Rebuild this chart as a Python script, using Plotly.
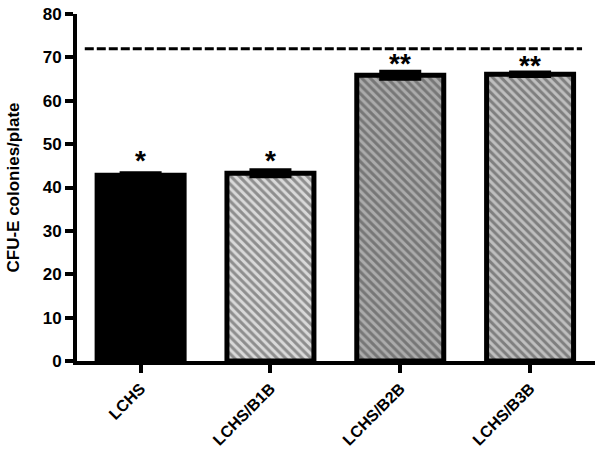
import plotly.graph_objects as go

categories = ["LCHS", "LCHS/B1B", "LCHS/B2B", "LCHS/B3B"]
values = [42.8, 43.3, 65.9, 66.1]
errors = [0.5, 0.7, 0.8, 0.4]
significance = ["*", "*", "**", "**"]
significance_y = [47.7, 47.7, 70.0, 69.6]
reference_level = 72
y_ticks = [0, 10, 20, 30, 40, 50, 60, 70, 80]

fill_colors = ["#000000", "#d9d9d9", "#ababab", "#7f7f7f"]
pattern_shapes = ["", "\\", "\\", "\\"]

font_family = "Arial, Liberation Sans, sans-serif"

fig = go.Figure()
fig.add_trace(go.Bar(
    x=categories, y=values, width=0.67,
    marker=dict(
        color=fill_colors,
        line=dict(color="black", width=5),
        pattern=dict(shape=pattern_shapes, fgcolor="black", bgcolor=fill_colors,
                     size=6, solidity=0.5, fillmode="overlay"),
    ),
    error_y=dict(type="data", array=errors, visible=True, color="black",
                 thickness=4, width=21),
    showlegend=False,
    hoverinfo="skip",
))

for c, sy, s in zip(categories, significance_y, significance):
    fig.add_annotation(x=c, y=sy, text=s, showarrow=False, yanchor="middle",
                       yshift=-6, font=dict(family=font_family, size=28, color="black", weight="bold"))

fig.add_shape(type="line", xref="paper", yref="y", x0=0.015, x1=0.975,
              y0=reference_level, y1=reference_level,
              line=dict(color="black", width=3, dash="9px,3px"))

fig.update_layout(
    width=602, height=451,
    margin=dict(l=77, r=7, t=14, b=90, autoexpand=False),
    plot_bgcolor="white", paper_bgcolor="white",
    font=dict(family=font_family, size=16, color="black", weight="bold"),
)
fig.update_xaxes(
    range=[-0.49, 3.5], showline=True, linewidth=4, linecolor="black",
    ticks="outside", ticklen=8, tickwidth=4, tickcolor="black",
    tickangle=-45, tickfont=dict(size=16, family=font_family, weight="bold"),
    showgrid=False, zeroline=False, automargin=False,
)
fig.update_yaxes(
    range=[0, 80], tickvals=y_ticks, showline=True, linewidth=4, linecolor="black",
    ticks="outside", ticklen=8, tickwidth=4, tickcolor="black",
    tickfont=dict(size=17, family=font_family, weight="bold"),
    showgrid=False, zeroline=False, automargin=False,
    title=dict(text="CFU-E colonies/plate", font=dict(size=17, family=font_family, weight="bold"), standoff=20),
)

fig.write_html("out.html", config={"displayModeBar": False},
               post_script="document.body.style.margin='0';")
